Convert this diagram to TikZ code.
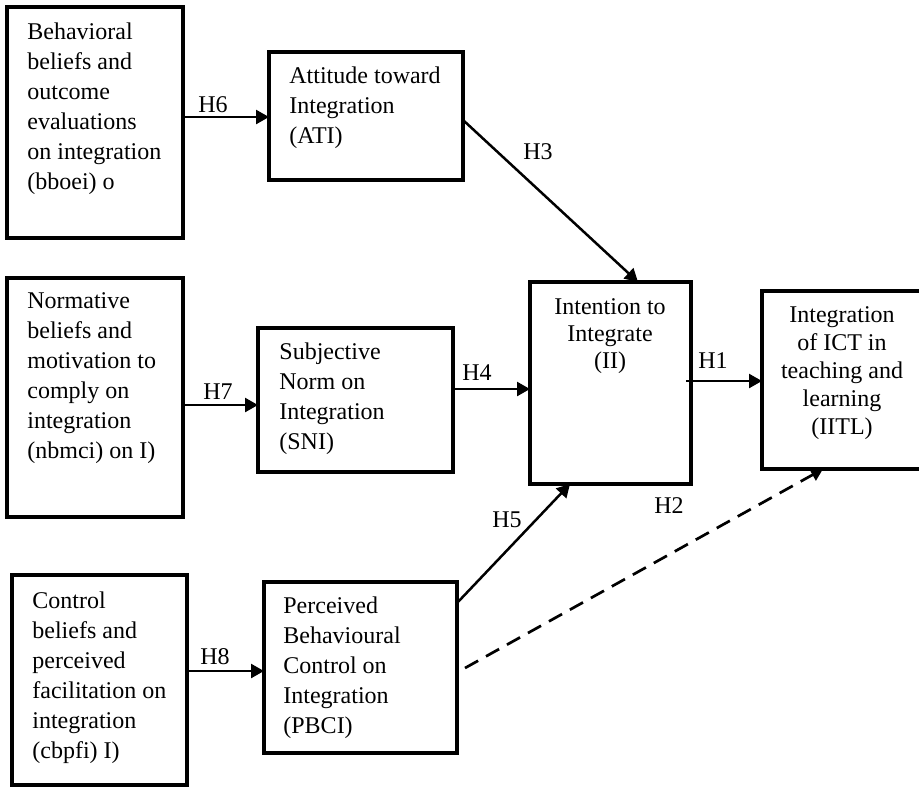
\documentclass[tikz,border=0pt]{standalone}
\usepackage{fontspec}
\setmainfont{Liberation Serif}
\usetikzlibrary{arrows.meta}
\begin{document}
\begin{tikzpicture}[x=0.5pt,y=-0.5pt,
  box/.style={draw, line width=1.6pt, inner sep=0pt, outer sep=0pt},
  txt/.style={font=\fontsize{12}{15}\selectfont, align=left, inner sep=0pt, anchor=north west},
  ctxt/.style={font=\fontsize{12}{13.75}\selectfont, align=center, inner sep=0pt, anchor=north},
  hlab/.style={font=\fontsize{12}{14}\selectfont, inner sep=0pt},
  arr/.style={line width=1.25pt, -{Triangle[length=6.5pt,width=7pt]}},
  darr/.style={line width=1.35pt, dash pattern=on 7.5pt off 4.5pt, -{Triangle[length=6pt,width=6.5pt]}}
]
\useasboundingbox (0,0) rectangle (919,788);
% boxes
\node[box, minimum width=88pt, minimum height=115.5pt] (bb) at (95,122.5) {};
\node[box, minimum width=97pt, minimum height=64pt] (at) at (366,116) {};
\node[box, minimum width=88pt, minimum height=119.5pt] (nb) at (95,397.5) {};
\node[box, minimum width=97.5pt, minimum height=72pt] (sn) at (355.5,400) {};
\node[box, minimum width=87.5pt, minimum height=105pt] (cb) at (99.5,680) {};
\node[box, minimum width=96.5pt, minimum height=85.5pt] (pb) at (360.5,667.5) {};
\node[box, minimum width=80.5pt, minimum height=101pt] (ii) at (610.5,383) {};
\node[box, minimum width=80pt, minimum height=89pt] (it) at (842,380) {};
% texts
\node[txt] (bbt) at (27,22) {Behavioral\\beliefs and\\outcome\\evaluations\\on integration\\(bboei) o};
\node[txt] (att) at (289,66) {Attitude toward\\Integration\\(ATI)};
\node[txt] (nbt) at (27,292) {Normative\\beliefs and\\motivation to\\comply on\\integration\\(nbmci) on I)};
\node[txt] (snt) at (279,342) {Subjective\\Norm on\\Integration\\(SNI)};
\node[txt] (cbt) at (32,591) {Control\\beliefs and\\perceived\\facilitation on\\integration\\(cbpfi) I)};
\node[txt] (pbt) at (283,596) {Perceived\\Behavioural\\Control on\\Integration\\(PBCI)};
\node[ctxt, font=\fontsize{12}{13.5}\selectfont] (iit) at (610,298) {Intention to\\Integrate\\(II)};
\node[ctxt, font=\fontsize{12}{14}\selectfont] (itt) at (842,306) {Integration\\of ICT in\\teaching and\\learning\\(IITL)};
% connectors
\coordinate (d0) at (465,668);
\draw[arr] (bb.east |- 0,117) -- (at.west |- 0,117);
\draw[arr] (nb.east |- 0,405) -- (sn.west |- 0,405);
\draw[arr] (cb.east |- 0,671) -- (pb.west |- 0,671);
\draw[arr] (sn.east |- 0,389) -- (ii.west |- 0,389);
\draw[arr] (686,381 -| ii.east) ++(-5,0) -- (it.west |- 0,381);
\draw[arr] (at.east |- 0,120) -- (638,0 |- ii.north);
\draw[arr] (pb.east |- 0,603) -- (570,0 |- ii.south);
\draw[darr] (d0) -- (823,0 |- it.south);
% labels
\node[hlab] (h6) at (213,105) {H6};
\node[hlab] (h7) at (218,392) {H7};
\node[hlab] (h8) at (215,657) {H8};
\node[hlab] (h4) at (477,373) {H4};
\node[hlab] (h1) at (713,361) {H1};
\node[hlab] (h3) at (538,152) {H3};
\node[hlab] (h5) at (507,520) {H5};
\node[hlab] (h2) at (669,506) {H2};
\end{tikzpicture}
\end{document}
